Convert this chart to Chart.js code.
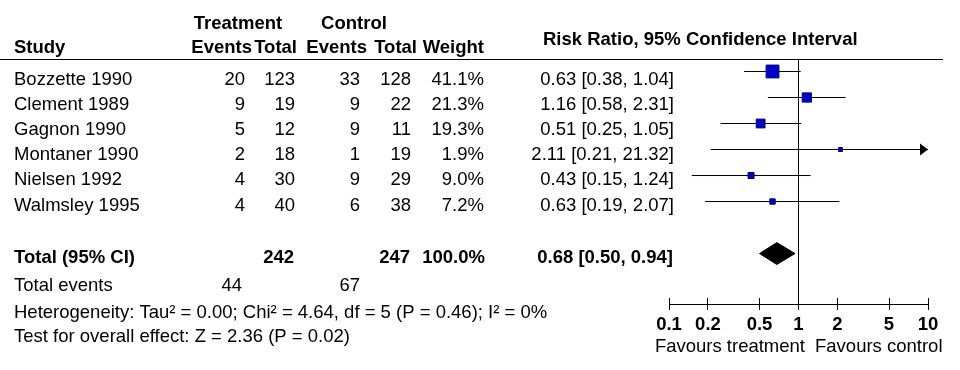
<!DOCTYPE html>
<html lang="en">
<head>
<meta charset="UTF-8">
<title>Forest plot - Risk Ratio</title>
<script src="https://cdn.jsdelivr.net/npm/chart.js"></script>
<style>
  html, body { margin: 0; padding: 0; background: #fff; }
</style>
</head>
<body>
<canvas id="forest" width="960" height="370"></canvas>
<script>
// study data
const studies = ['Bozzette 1990', 'Clement 1989', 'Gagnon 1990', 'Montaner 1990', 'Nielsen 1992', 'Walmsley 1995'];
const tEvents = [20, 9, 5, 2, 4, 4];
const tTotal = [123, 19, 12, 18, 30, 40];
const cEvents = [33, 9, 9, 1, 9, 6];
const cTotal = [128, 22, 11, 19, 29, 38];
const weights = [41.1, 21.3, 19.3, 1.9, 9.0, 7.2];
const rr = [0.63, 1.16, 0.51, 2.11, 0.43, 0.63];
const ciLow = [0.38, 0.58, 0.25, 0.21, 0.15, 0.19];
const ciHigh = [1.04, 2.31, 1.05, 21.32, 1.24, 2.07];

// pooled result
const pooled = [0.68, 0.50, 0.94];   // estimate, low, high
const pooledTotals = [242, 247];
const pooledEvents = [44, 67];
const pooledWeight = 100.0;
const heterogeneity = 'Heterogeneity: Tau\u00b2 = 0.00; Chi\u00b2 = 4.64, df = 5 (P = 0.46); I\u00b2 = 0%';
const overallTest = 'Test for overall effect: Z = 2.36 (P = 0.02)';

const xTicks = [0.1, 0.2, 0.5, 1, 2, 5, 10];
const pooledRow = 7;

const FONT = '"Liberation Sans", Arial, sans-serif';
Chart.defaults.font.family = FONT;

const f2 = v => v.toFixed(2);
const ciText = (e, l, h) => `${f2(e)} [${f2(l)}, ${f2(h)}]`;

// text + decorations drawn over the chart
const tablePlugin = {
    id: 'forestTable',
    afterDraw(chart) {
        const ctx = chart.ctx;
        const xs = chart.scales.x, ys = chart.scales.y;
        const area = chart.chartArea;
        const base = r => ys.getPixelForValue(r) + 12;
        const put = (s, x, row, align, bold) => {
            ctx.font = (bold ? 'bold ' : '') + '18.5px ' + FONT;
            ctx.textAlign = align;
            ctx.textBaseline = 'alphabetic';
            ctx.fillStyle = '#000';
            ctx.fillText(s, x, base(row));
        };
        ctx.save();
        ctx.strokeStyle = '#000';
        ctx.lineWidth = 1;

        // rule under the header
        ctx.beginPath();
        ctx.moveTo(0, area.top + 0.5);
        ctx.lineTo(943, area.top + 0.5);
        ctx.stroke();

        // upper halves of the axis ticks
        xTicks.forEach(v => {
            const px = Math.round(xs.getPixelForValue(v) - 0.5) + 0.5;
            ctx.beginPath();
            ctx.moveTo(px, area.bottom - 6);
            ctx.lineTo(px, area.bottom);
            ctx.stroke();
        });

        // arrow where the interval runs off the axis
        ciHigh.forEach((h, i) => {
            if (h <= xs.max) return;
            const tip = xs.getPixelForValue(xs.max);
            const y = ys.getPixelForValue(i);
            ctx.fillStyle = '#000';
            ctx.beginPath();
            ctx.moveTo(tip, y);
            ctx.lineTo(tip - 8, y - 6);
            ctx.lineTo(tip - 8, y + 6);
            ctx.closePath();
            ctx.fill();
        });

        // header
        put('Treatment', 238, -2.1, 'center', true);
        put('Control', 354, -2.1, 'center', true);
        put('Study', 14, -1.17, 'left', true);
        put('Events', 252, -1.17, 'right', true);
        put('Total', 297, -1.17, 'right', true);
        put('Events', 367, -1.17, 'right', true);
        put('Total', 417, -1.17, 'right', true);
        put('Weight', 484, -1.17, 'right', true);
        put('Risk Ratio, 95% Confidence Interval', 543, -1.48, 'left', true);

        // study rows
        studies.forEach((s, i) => {
            const r = i * 0.97 + 0.04;
            put(s, 14, r, 'left');
            put(String(tEvents[i]), 245, r, 'right');
            put(String(tTotal[i]), 295, r, 'right');
            put(String(cEvents[i]), 360, r, 'right');
            put(String(cTotal[i]), 411, r, 'right');
            put(weights[i].toFixed(1) + '%', 484, r, 'right');
            put(ciText(rr[i], ciLow[i], ciHigh[i]), 674, r, 'right');
        });

        // pooled rows
        put('Total (95% CI)', 14, 6.9, 'left', true);
        put(String(pooledTotals[0]), 294, 6.9, 'right', true);
        put(String(pooledTotals[1]), 410, 6.9, 'right', true);
        put(pooledWeight.toFixed(1) + '%', 485, 6.9, 'right', true);
        put(ciText(pooled[0], pooled[1], pooled[2]), 673, 6.9, 'right', true);

        put('Total events', 14, 7.99, 'left');
        put(String(pooledEvents[0]), 242, 7.99, 'right');
        put(String(pooledEvents[1]), 360, 7.99, 'right');
        put(heterogeneity, 14, 9.0, 'left');
        put(overallTest, 14, 9.93, 'left');

        put('Favours treatment', 805, 10.32, 'right');
        put('Favours control', 815, 10.32, 'left');
        ctx.restore();
    }
};

// pooled diamond outline
const [pe, pl, ph] = pooled;
const diamond = [
    { x: pl, y: pooledRow },
    { x: pe, y: pooledRow - 0.42 },
    { x: ph, y: pooledRow },
    { x: pe, y: pooledRow + 0.42 },
    { x: pl, y: pooledRow }
];

const ciSets = studies.map((s, i) => ({
    type: 'scatter',
    label: s,
    showLine: true,
    data: [{ x: ciLow[i], y: i }, { x: ciHigh[i], y: i }],
    borderColor: '#000',
    borderWidth: 1,
    pointRadius: 0
}));

new Chart(document.getElementById('forest'), {
    type: 'scatter',
    data: {
        datasets: [
            {
                label: 'Risk ratio',
                data: rr.map((v, i) => ({ x: v, y: i })),
                pointStyle: 'rect',
                pointRadius: weights.map(w => Math.max(4, 2 * Math.sqrt(w)) / Math.SQRT2),
                backgroundColor: '#0000c8',
                borderColor: '#000070',
                borderWidth: 1
            },
            {
                label: 'Total',
                data: diamond,
                showLine: true,
                fill: 'shape',
                backgroundColor: '#000',
                borderColor: '#000',
                borderWidth: 1,
                pointRadius: 0
            },
            ...ciSets,
            {
                label: 'No effect',
                data: [{ x: 1, y: -0.48 }, { x: 1, y: 8.94 }],
                showLine: true,
                borderColor: '#000',
                borderWidth: 1,
                pointRadius: 0
            }
        ]
    },
    options: {
        responsive: false,
        animation: false,
        events: [],
        layout: { padding: { top: 59, left: 669, right: 32, bottom: 0 } },
        plugins: { legend: { display: false }, tooltip: { enabled: false } },
        scales: {
            x: {
                type: 'logarithmic',
                min: 0.1,
                max: 10,
                afterBuildTicks: s => { s.ticks = xTicks.map(v => ({ value: v })); },
                afterFit: s => { s.height = 66; },
                border: { display: true, color: '#000', width: 1 },
                grid: { drawOnChartArea: false, drawTicks: true, tickLength: 6, color: '#000', lineWidth: 1 },
                ticks: {
                    autoSkip: false,
                    maxRotation: 0,
                    padding: 4,
                    color: '#000',
                    font: { size: 18.5, weight: 'bold' },
                    callback: v => String(v)
                }
            },
            y: {
                type: 'linear',
                display: false,
                reverse: true,
                min: -0.48,
                max: 8.94
            }
        }
    },
    plugins: [tablePlugin]
});
</script>
</body>
</html>
